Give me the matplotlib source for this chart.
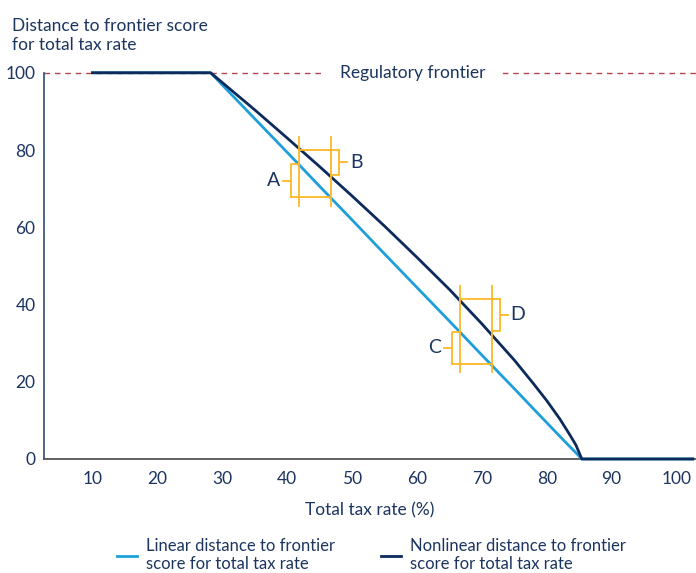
import matplotlib
matplotlib.use("Agg")
import matplotlib.pyplot as plt

plt.rcParams['font.family'] = ['Lato', 'DejaVu Sans']

# total tax rate (%) and distance to frontier scores
tax_rate = [10, 28.2, 35, 40, 45, 50, 55, 60, 65, 70, 75, 78, 80, 82, 83.5, 84.5, 85.4, 102.5]
linear_score = [100, 100, 88.1, 79.4, 70.6, 61.9, 53.1, 44.4, 35.7, 26.9, 18.2, 12.9, 9.4, 5.9, 3.3, 1.6, 0, 0]
nonlinear_score = [100, 100, 90.4, 83.1, 75.7, 68.1, 60.3, 52.2, 43.9, 35.0, 25.6, 19.4, 15.1, 10.4, 6.4, 3.6, 0, 0]

# bracket annotations: two tax rates, linear and nonlinear scores at each
brackets = [
    {"x": [41.8, 46.8], "lin": [76.4, 67.8], "nl": [80.0, 73.6], "labels": ["A", "B"]},
    {"x": [66.6, 71.6], "lin": [33.0, 24.6], "nl": [41.5, 33.2], "labels": ["C", "D"]},
]

light_blue = '#1E9FDA'
navy = '#0C2A5B'
text_col = '#1B3560'
orange = '#FDB827'

fig = plt.figure(figsize=(6.96, 5.73), dpi=100)
ax = fig.add_axes([0.063, 0.199, 0.937, 0.674])

ax.plot(tax_rate, linear_score, color=light_blue, lw=2, clip_on=False, zorder=3,
        label='Linear distance to frontier\nscore for total tax rate')
ax.plot(tax_rate, nonlinear_score, color=navy, lw=2, clip_on=False, zorder=4,
        label='Nonlinear distance to frontier\nscore for total tax rate')

# regulatory frontier
ax.axhline(100, color='#B5444F', lw=1, ls=(0, (4, 3.5)), zorder=2, clip_on=False)
ax.text(59.3, 100, '  Regulatory frontier  ', ha='center', va='center', fontsize=12.5,
        color=text_col, backgroundcolor='white', zorder=2.5)

off = 1.2
for b in brackets:
    x1, x2 = b["x"]
    l1, l2 = b["lin"]
    n1, n2 = b["nl"]
    top = n1 + 3.3
    bot = l2 - 2.2
    kw = dict(color=orange, lw=1.3, zorder=5)
    ax.plot([x1, x1], [bot, top], **kw)
    ax.plot([x2, x2], [bot, top], **kw)
    # horizontal guides
    ax.plot([x1, x2 + off], [n1, n1], **kw)
    ax.plot([x1 - off, x2], [l2, l2], **kw)
    # left bracket (linear change)
    ax.plot([x1, x1 - off, x1 - off], [l1, l1, l2], **kw)
    ax.plot([x1 - off, x1 - 2.4], [(l1 + l2) / 2] * 2, **kw)
    ax.text(x1 - 3.9, (l1 + l2) / 2, b["labels"][0], ha='center', va='center',
            fontsize=14, color=text_col)
    # right bracket (nonlinear change)
    ax.plot([x2, x2 + off, x2 + off], [n2, n2, n1], **kw)
    ax.plot([x2 + off, x2 + 2.4], [(n1 + n2) / 2] * 2, **kw)
    ax.text(x2 + 3.9, (n1 + n2) / 2, b["labels"][1], ha='center', va='center',
            fontsize=14, color=text_col)

ax.set_xlim(2.5, 103)
ax.set_ylim(0, 100)
ax.set_xticks(range(10, 101, 10))
ax.set_yticks(range(0, 101, 20))
ax.tick_params(length=0, labelsize=12.5, labelcolor=text_col, pad=6)
ax.tick_params(axis='x', pad=9)
for s in ['top', 'right']:
    ax.spines[s].set_visible(False)
ax.spines['left'].set_color('#3D5A80')
ax.spines['left'].set_linewidth(1.3)
ax.spines['bottom'].set_color('#555555')
ax.spines['bottom'].set_linewidth(1.3)

ax.set_xlabel('Total tax rate (%)', fontsize=12.5, color=text_col, labelpad=11)
fig.text(0.017, 0.968, 'Distance to frontier score\nfor total tax rate', ha='left', va='top',
         fontsize=12.5, color=text_col, linespacing=1.2)

fig.legend(loc='upper center', bbox_to_anchor=(0.534, 0.073), ncol=2, frameon=False,
           fontsize=12, labelcolor=text_col, handlelength=1.2, handletextpad=0.55,
           columnspacing=2.75, borderaxespad=0, labelspacing=0)

fig.savefig('out.png', dpi=100)
